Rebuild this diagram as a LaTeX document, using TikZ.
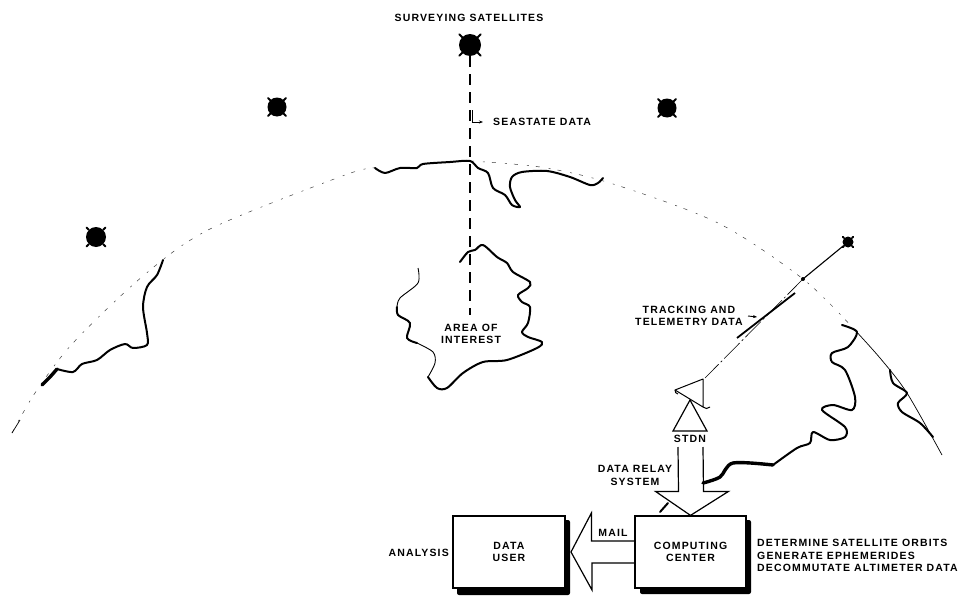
\documentclass[tikz,border=0pt]{standalone}
\usepackage{fontspec}
\setmainfont{Liberation Sans}
\newfontfamily\labelfont[LetterSpace=11]{Liberation Sans}
\usetikzlibrary{calc,arrows.meta}
\begin{document}
\begin{tikzpicture}[x=1pt,y=-1pt,
  label text/.style={font=\labelfont\fontsize{10.5}{12.6}\selectfont\bfseries,inner sep=0pt,align=center},
  satellite/.style={circle,fill=black,inner sep=0pt},
  leg/.style={line width=2pt,line cap=round},
  coast/.style={line width=2pt,line join=round,line cap=round},
  thickcoast/.style={line width=3.4pt,line join=round,line cap=round},
  thincoast/.style={line width=.9pt,line join=round},
  horizon/.style={line width=.5pt,black!75,dash pattern=on 4pt off 9pt on 2pt off 7pt},
  procbox/.style={draw,line width=1.2pt,inner sep=0pt,fill=white},
  shadow/.style={fill=black,rounded corners=2pt},
  blockarrow/.style={line width=1.2pt,line join=miter},
  smallarrow/.style={line width=.9pt,-{Stealth[length=4pt,width=3pt]}}]
\useasboundingbox (0,0) rectangle (967,597);
% horizon
\draw[horizon] plot[smooth] coordinates {(12,433) (35,393) (73,343) (143,276) (210,229) (345,175) (375,168)};
\draw[horizon] plot[smooth] coordinates {(470,161) (540,167) (610,183) (718,223) (803,279) (853,328)};
\draw[line width=.7pt] plot[smooth] coordinates {(853,328) (880,358) (907,393) (942,455)};
\draw[line width=.7pt] (12,433) -- (20,420);
% top coast
\draw[coast] plot[smooth,tension=.5] coordinates {(375,168) (385,173) (400,168) (417,168) (423,164) (450,162) (470,161) (478,168) (488,173) (493,188) (505,195) (512,205) (520,207) (515,200) (510,187) (512,177) (522,172) (547,171) (570,177) (590,185) (598,183) (603,178)};
% area of interest coast
\draw[coast] plot[smooth,tension=.5] coordinates {(460,262) (468,252) (475,250) (483,245) (497,257) (507,263) (513,272) (530,282) (528,288) (518,295) (522,302) (530,307) (528,323) (522,332) (528,337) (542,342) (537,348) (507,360) (483,362) (463,373) (447,388) (437,388) (428,377)};
\draw[thincoast] plot[smooth,tension=.5] coordinates {(428,377) (435,363) (433,352) (417,343)};
\draw[coast] plot[smooth,tension=.5] coordinates {(417,343) (407,338) (410,323) (398,315) (397,307)};
\draw[thincoast] plot[smooth,tension=.5] coordinates {(397,307) (400,298) (418,283) (418,268)};
% left coast
\draw[coast] plot[smooth,tension=.5] coordinates {(163,260) (157,275) (147,287) (143,307) (147,333) (147,345) (133,348) (125,344) (110,350) (97,360) (82,364) (73,372) (57,369)};
\draw[thickcoast] plot[smooth,tension=.5] coordinates {(57,369) (50,377) (42,385)};
% right coast
\draw[coast] plot[smooth,tension=.5] coordinates {(842,325) (857,332) (848,347) (832,353) (832,362) (845,370) (855,397) (852,410) (833,405) (822,410) (845,427) (845,437) (830,440) (813,432) (810,443) (797,448) (773,465)};
\draw[thickcoast] plot[smooth,tension=.5] coordinates {(773,465) (733,463) (720,477) (703,483)};
\draw[coast] (668,503) -- (660,512);
% far right coast
\draw[coast] plot[smooth,tension=.5] coordinates {(890,370) (893,383) (907,393) (898,403) (902,412) (920,423) (933,437)};
% satellites
\node[satellite,minimum size=20pt] (satA) at (96,237) {};
\node[satellite,minimum size=19pt] (satB) at (277,107) {};
\node[satellite,minimum size=22pt] (satC) at (470,45) {};
\node[satellite,minimum size=19pt] (satD) at (667,108) {};
\node[satellite,minimum size=11pt] (satE) at (848,242) {};
\foreach \s/\d in {satA/3,satB/3,satC/4,satD/3,satE/1.5}{
  \foreach \a in {45,135,225,315}{
    \draw[leg] (\s.\a) -- ($(\s.\a)+(\a:\d pt)$);
  }
}
% labels
\node[label text] (surveying) at (469,18) {SURVEYING SATELLITES};
\node[label text,anchor=west] (seastate) at (493,122) {SEASTATE DATA};
\node[label text] (aoi) at (471,334) {AREA OF\\INTEREST};
\node[label text,anchor=east,align=center] (track) at (743,316) {TRACKING AND\\TELEMETRY DATA};
\node[label text] (stdn) at (690,439) {STDN};
\node[label text] (relay) at (635,475.5) {DATA RELAY\\SYSTEM};
\node[label text,anchor=west,align=left] (tasks) at (757,555.5) {DETERMINE SATELLITE ORBITS\\GENERATE EPHEMERIDES\\DECOMMUTATE ALTIMETER DATA};
\node[label text] (mail) at (613,533) {MAIL};
\node[label text,anchor=east] (analysis) at (449,553) {ANALYSIS};
% boxes
\fill[shadow] (457,520) rectangle (570,595);
\fill[shadow] (640,520) rectangle (751,594);
\node[procbox,label text,minimum width=112pt,minimum height=72pt] (user) at (509,552) {DATA\\USER};
\node[procbox,label text,minimum width=111pt,minimum height=72pt] (center) at (690.5,552) {COMPUTING\\CENTER};
% seastate link
\coordinate (down) at (470,315);
\coordinate (bend) at (472,110);
\draw[line width=1.7pt,dash pattern=on 11pt off 7pt] (satC) -- (down);
\draw[smallarrow,shorten >=10pt] (bend) |- (seastate.west);
% tracking link
\coordinate (cross) at (803,279);
\coordinate (dish) at (705,378);
\draw[line width=1.1pt] (satE) -- (cross);
\draw[line width=.6pt,dash pattern=on 22pt off 3pt on 2pt off 3pt] (cross) -- (dish);
\fill (cross) circle (2pt);
\draw[line width=1.8pt] (737,338) -- (795,293);
\draw[smallarrow] ([xshift=5pt]track.east) -- ++(9,1);
% antenna
\draw[line width=1pt,line join=round] (675,390) -- (703,379) -- (703,407) -- cycle;
\draw[line width=1pt] (675,390) .. controls (675,392) and (676,394) .. (678,394);
\draw[line width=1pt] (703,407) .. controls (705,409) and (708,409) .. (710,407);
% relay arrow
\draw[blockarrow] (center.north) -- ++(38,-24) -- ++(-25,0) -- (703,447);
\draw[blockarrow] (center.north) -- ++(-35,-24) -- ++(23,0) -- (678,447);
\draw[blockarrow] (690,400) -- (707,431) -- (673,431) -- cycle;
% mail arrow
\draw[blockarrow] ([yshift=11pt]center.west) -- ++(-43,0) -- ++(0,-28) -- (571,552) -- (592,590) -- (592,563) -- ([yshift=-11pt]center.west);
\end{tikzpicture}
\end{document}
